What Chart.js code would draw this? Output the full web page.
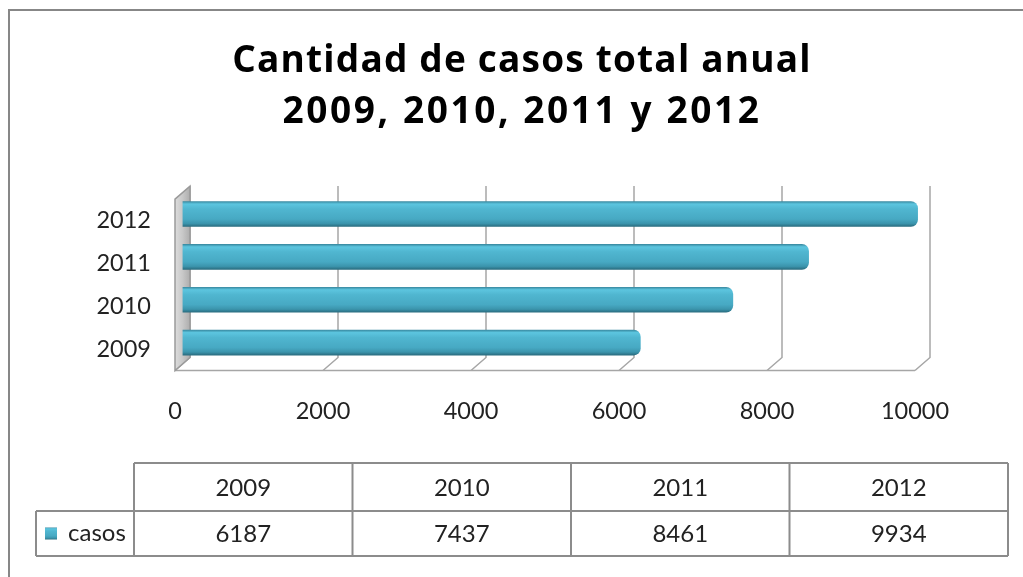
<!DOCTYPE html>
<html>
<head>
<meta charset="utf-8">
<script src="https://cdn.jsdelivr.net/npm/chart.js@4"></script>
<style>
  body { margin: 0; background: #fff; }
</style>
</head>
<body>
<canvas id="graficoCasos" width="1023" height="577"></canvas>
<script>
// Datos
const anios = ["2009", "2010", "2011", "2012"];
const casos = [6187, 7437, 8461, 9934];
const serieNombre = "casos";
const tituloLineas = ["Cantidad de casos total anual", "2009, 2010, 2011 y 2012"];
const ticksX = [0, 2000, 4000, 6000, 8000, 10000];

const FUENTE = "Lato, 'Open Sans', sans-serif";
const FUENTE_TITULO = "'Open Sans', Lato, sans-serif";
const DX = 7.5; // profundidad 3D en x
const DY = 6.5; // profundidad 3D en y

function gradienteBarra(ctx, y0, y1) {
  const g = ctx.createLinearGradient(0, y0, 0, y1);
  g.addColorStop(0, "#3a8ca3");
  g.addColorStop(0.1, "#5cc5df");
  g.addColorStop(0.3, "#50b6d0");
  g.addColorStop(0.7, "#47a9c3");
  g.addColorStop(0.88, "#3b94ac");
  g.addColorStop(1, "#2a6d80");
  return g;
}

// =============================
// EFECTO 3D, TÍTULO Y TABLA
// =============================

const efecto3D = {
  id: "efecto3D",
  beforeDraw(chart) {
    const ctx = chart.ctx;
    ctx.save();
    ctx.strokeStyle = "#878787";
    ctx.lineWidth = 2;
    ctx.beginPath();
    ctx.moveTo(9, chart.height);
    ctx.lineTo(9, 10);
    ctx.lineTo(chart.width, 10);
    ctx.stroke();

    // título
    ctx.fillStyle = "#000";
    ctx.font = "bold 37px " + FUENTE_TITULO;
    ctx.textAlign = "center";
    ctx.textBaseline = "alphabetic";
    ctx.letterSpacing = "1.2px";
    ctx.fillText(tituloLineas[0], 522, 72);
    ctx.letterSpacing = "2.6px";
    ctx.fillText(tituloLineas[1], 522, 123);
    ctx.restore();
  },
  beforeDatasetsDraw(chart) {
    const ctx = chart.ctx;
    const xs = chart.scales.x;
    const area = chart.chartArea;
    const x0 = xs.getPixelForValue(0);
    const xMax = xs.getPixelForValue(ticksX[ticksX.length - 1]);

    ctx.save();
    ctx.lineWidth = 1.5;
    ctx.strokeStyle = "#a6a6a6";

    // rejilla de la pared del fondo + piso
    ticksX.forEach((v) => {
      const x = xs.getPixelForValue(v);
      ctx.beginPath();
      ctx.moveTo(x + DX, area.top - DY);
      ctx.lineTo(x + DX, area.bottom - DY);
      ctx.lineTo(x - DX, area.bottom + DY);
      ctx.stroke();
    });
    ctx.beginPath();
    ctx.moveTo(x0 - DX, area.bottom + DY);
    ctx.lineTo(xMax - DX, area.bottom + DY);
    ctx.stroke();

    // pared lateral
    const g = ctx.createLinearGradient(x0 - DX, 0, x0 + DX, 0);
    g.addColorStop(0, "#dcdcdc");
    g.addColorStop(0.5, "#c8c8c8");
    g.addColorStop(1, "#adadad");
    ctx.fillStyle = g;
    ctx.strokeStyle = "#9a9a9a";
    ctx.beginPath();
    ctx.moveTo(x0 - DX, area.top + DY);
    ctx.lineTo(x0 + DX, area.top - DY);
    ctx.lineTo(x0 + DX, area.bottom - DY);
    ctx.lineTo(x0 - DX, area.bottom + DY);
    ctx.closePath();
    ctx.fill();
    ctx.stroke();
    ctx.restore();
  },
  afterDraw(chart) {
    const ctx = chart.ctx;
    const t = { izq: 36, x0: 134, der: 1008, y0: 463, y1: 511, y2: 556 };
    const ancho = (t.der - t.x0) / anios.length;

    ctx.save();
    ctx.strokeStyle = "#8c8c8c";
    ctx.lineWidth = 2;
    ctx.beginPath();
    ctx.moveTo(t.x0, t.y0);
    ctx.lineTo(t.der, t.y0);
    ctx.moveTo(t.izq, t.y1);
    ctx.lineTo(t.der, t.y1);
    ctx.moveTo(t.izq, t.y2);
    ctx.lineTo(t.der, t.y2);
    ctx.moveTo(t.izq, t.y1);
    ctx.lineTo(t.izq, t.y2);
    for (let i = 0; i <= anios.length; i++) {
      ctx.moveTo(t.x0 + i * ancho, t.y0);
      ctx.lineTo(t.x0 + i * ancho, t.y2);
    }
    ctx.stroke();

    ctx.fillStyle = "#222";
    ctx.font = "24px " + FUENTE;
    ctx.textAlign = "center";
    ctx.textBaseline = "middle";
    anios.forEach((a, i) => {
      const cx = t.x0 + (i + 0.5) * ancho;
      ctx.fillText(a, cx, (t.y0 + t.y1) / 2 + 1);
      ctx.fillText(String(casos[i]), cx, (t.y1 + t.y2) / 2 + 1);
    });

    // leyenda
    const ym = (t.y1 + t.y2) / 2;
    ctx.fillStyle = gradienteBarra(ctx, ym - 6, ym + 6);
    ctx.fillRect(45, ym - 6, 12, 12);
    ctx.fillStyle = "#222";
    ctx.textAlign = "left";
    ctx.fillText(serieNombre, 68, ym);
    ctx.restore();
  },
};

const grafico = new Chart(document.getElementById("graficoCasos"), {
  type: "bar",
  data: {
    labels: anios,
    datasets: [
      {
        label: serieNombre,
        data: casos,
        barThickness: 25,
        borderRadius: 7,
        borderSkipped: "start",
        backgroundColor: (c) => {
          const ys = c.chart.scales.y;
          if (!ys || c.dataIndex === undefined) return "#4bacc6";
          const yc = ys.getPixelForValue(c.dataIndex);
          if (!isFinite(yc)) return "#4bacc6";
          return gradienteBarra(c.chart.ctx, yc - 12.5, yc + 12.5);
        },
      },
    ],
  },
  options: {
    indexAxis: "y",
    responsive: false,
    animation: false,
    devicePixelRatio: 1,
    layout: { padding: { left: 80, right: 100.5, top: 192.6, bottom: 153 } },
    plugins: {
      legend: { display: false },
      tooltip: { enabled: false },
      title: { display: false },
    },
    scales: {
      x: {
        min: 0,
        max: 10000,
        grid: { display: false, drawTicks: false },
        border: { display: false },
        afterFit: (s) => { s.height = 60; },
        ticks: {
          stepSize: 2000,
          padding: 33,
          labelOffset: -DX,
          color: "#222",
          font: { family: FUENTE, size: 23.5 },
          callback: (v) => String(v),
        },
      },
      y: {
        reverse: true,
        grid: { display: false, drawTicks: false },
        border: { display: false },
        afterFit: (s) => { s.width = 102.5; },
        ticks: {
          padding: 31.5,
          labelOffset: DY,
          color: "#222",
          font: { family: FUENTE, size: 23.5 },
        },
      },
    },
  },
  plugins: [efecto3D],
});
</script>
</body>
</html>
